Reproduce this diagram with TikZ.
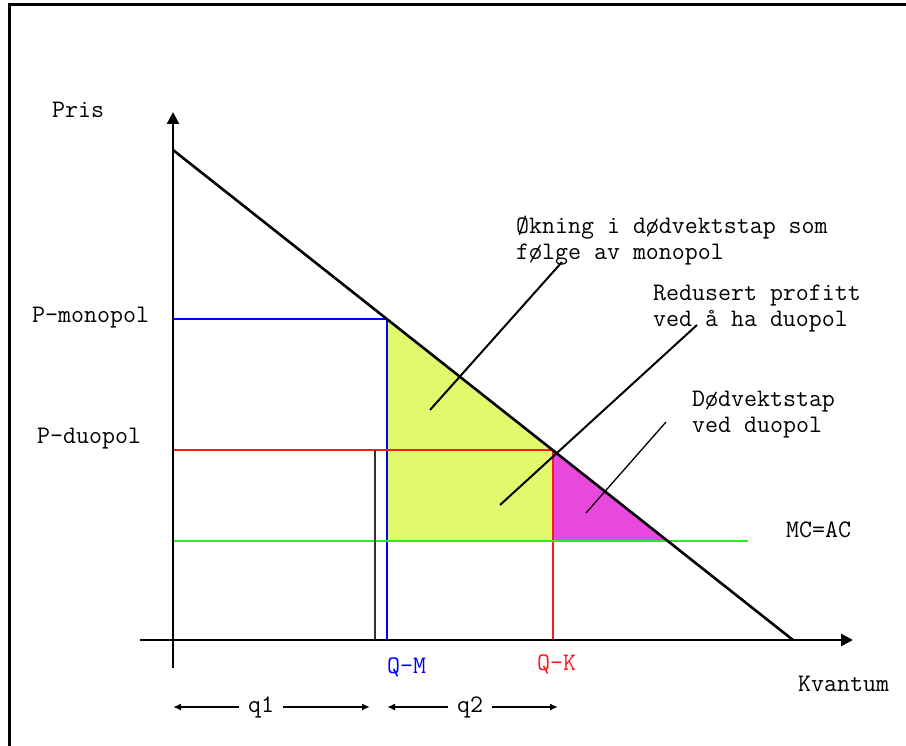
\documentclass[tikz,border=0pt]{standalone}
\usepackage{fontspec}
\usepackage{tikz}
\usetikzlibrary{arrows.meta}
\usepackage{xcolor}
\definecolor{monoblue}{HTML}{0000FF}
\definecolor{duored}{HTML}{FF1A1A}
\definecolor{mcgreen}{HTML}{22EE22}
\definecolor{lossyellow}{HTML}{E3F86C}
\definecolor{lossmagenta}{HTML}{E848DC}

\begin{document}
\begin{tikzpicture}[x=1pt,y=-1pt,
  lbl/.style={inner sep=0pt, font=\ttfamily\fontsize{25.2}{26}\selectfont, align=left},
  qlbl/.style={lbl, inner xsep=9pt},
  axis/.style={line width=2.4pt, -{Triangle[length=12pt,width=12pt]}},
  qarrow/.style={line width=1.8pt, -{Latex[length=8pt,width=7pt]}},
  leader/.style={line width=2pt}]
\useasboundingbox (0,0) rectangle (906,746);
% frame
\draw[line width=3pt] (9,746) -- (9,5) -- (906,5);
% areas
\fill[lossyellow] (387,319) -- (553,450) -- (553,541) -- (387,541) -- cycle;
\fill[lossmagenta] (553,450) -- (668,541) -- (553,541) -- cycle;
% price and quantity lines
\draw[monoblue, line width=2.4pt] (173,319) -- (387,319) -- (387,640);
\draw[duored, line width=2.4pt] (173,450) -- (553,450) -- (553,640);
\draw[mcgreen, line width=2.8pt] (173,541) -- (748,541);
\draw[black!80, line width=2.4pt] (375,450) -- (375,640);
% axes
\draw[axis] (173,668) -- (173,112);
\draw[axis] (140,640) -- (853,640);
% demand
\draw[line width=2.6pt] (173,150) -- (793,640);

% labels
\node[lbl, anchor=west] (pris) at (52,110) {Pris};
\node[lbl, anchor=west] (pmonolbl) at (32,318) {P-monopol};
\node[lbl, anchor=west] (pduolbl) at (37,439) {P-duopol};
\node[lbl, anchor=west] (okning) at (516,241) {Økning i dødvektstap som\\følge av monopol};
\node[lbl, anchor=west] (redusert) at (653,309) {Redusert profitt\\ved å ha duopol};
\node[lbl, anchor=west] (dodvekt) at (692,415) {Dødvektstap\\ved duopol};
\node[lbl, anchor=west] (mcac) at (786,530) {MC=AC};
\node[lbl, anchor=west, text=monoblue] (qm) at (387,667) {Q-M};
\node[lbl, anchor=west, text=duored] (qk) at (537,664) {Q-K};
\node[lbl, anchor=west] (kvantum) at (798,684) {Kvantum};

% leader lines
\coordinate (lead1a) at (430,410);
\coordinate (lead1b) at (562,262);
\coordinate (lead2a) at (500,505);
\coordinate (lead2b) at (697,325);
\coordinate (lead3a) at (586,513);
\coordinate (lead3b) at (666,422);
\draw[leader] (lead1a) -- (lead1b);
\draw[leader] (lead2a) -- (lead2b);
\draw[leader, line width=1.3pt] (lead3a) -- (lead3b);

% q1 and q2
\node[qlbl] (q1) at (261,707) {q1};
\node[qlbl] (q2) at (470,707) {q2};
\coordinate (q1l) at (173,707);
\coordinate (q1r) at (370,707);
\coordinate (q2l) at (387,707);
\coordinate (q2r) at (558,707);
\draw[qarrow] (q1) -- (q1l);
\draw[qarrow] (q1) -- (q1r);
\draw[qarrow] (q2) -- (q2l);
\draw[qarrow] (q2) -- (q2r);
\end{tikzpicture}
\end{document}
